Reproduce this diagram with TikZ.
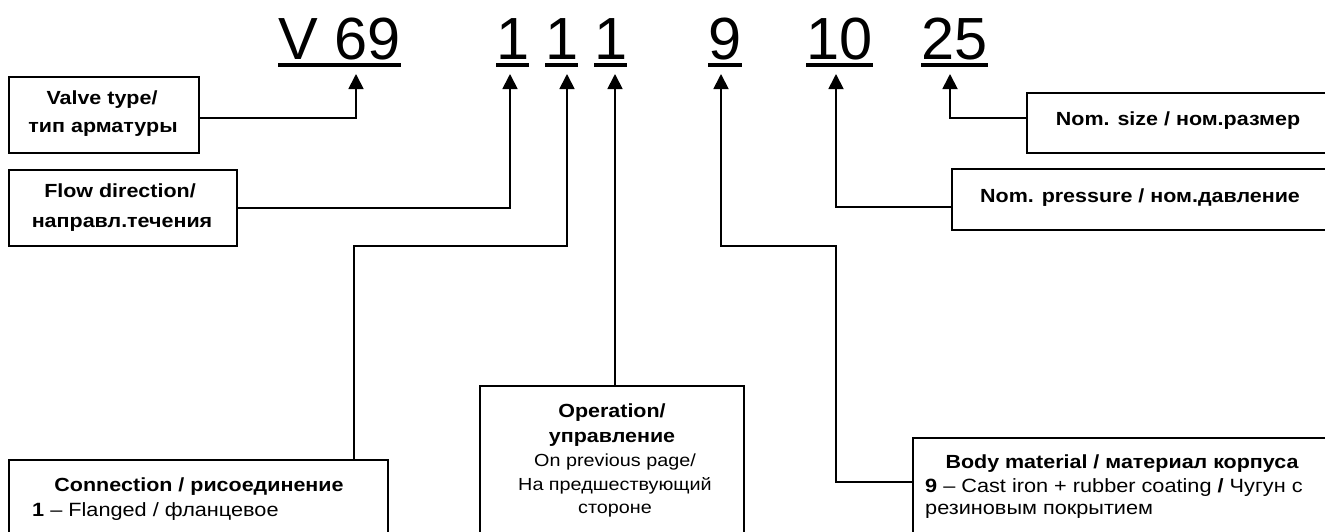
\documentclass[tikz,border=0pt]{standalone}
\usepackage{fontspec}
\setmainfont{Liberation Sans}
\newfontfamily\bxfont{Liberation Sans}[FakeStretch=1.13]
\usetikzlibrary{arrows.meta}
\begin{document}
\begin{tikzpicture}[x=1pt,y=-1pt,
  box/.style={draw, line width=1.8pt, inner sep=0pt},
  big/.style={font=\fontsize{59.5}{60}\selectfont, inner sep=0pt, anchor=base west},
  ul/.style={line width=4pt},
  arr/.style={line width=1.8pt, -{Triangle[length=15pt,width=15pt]}},
  bt/.style={font=\bxfont\bfseries\fontsize{19}{24}\selectfont, inner sep=0pt, anchor=base},
  rt/.style={font=\bxfont\fontsize{17.5}{24}\selectfont, inner sep=0pt, anchor=base},
  rtl/.style={font=\bxfont\fontsize{19.2}{24}\selectfont, inner sep=0pt, anchor=base west},
]
\useasboundingbox (0,0) rectangle (1325,531);

% code digits
\node[big] (nV) at (278,59) {V 69};
\node[big] (nA) at (496,59) {1};
\node[big] (nB) at (545,59) {1};
\node[big] (nC) at (594,59) {1};
\node[big] (nN) at (708,59) {9};
\node[big] (nP) at (806,59) {10};
\node[big] (nS) at (921,59) {25};
\foreach \n in {nV,nA,nB,nC,nN,nP,nS}
  \draw[ul] ([yshift=-6pt]\n.base west) -- ([yshift=-6pt]\n.base east);

% arrow tips
\coordinate (tV) at (356,74);
\coordinate (tA) at (510,74);
\coordinate (tB) at (567,74);
\coordinate (tC) at (615,74);
\coordinate (tN) at (721,74);
\coordinate (tP) at (836,74);
\coordinate (tS) at (950,74);
\coordinate (kB) at (354,246);
\coordinate (kN) at (836,246);

% boxes
\node[box, minimum width=190pt, minimum height=76pt] (valve) at (104,115) {};
\node[box, minimum width=228pt, minimum height=76pt] (flow) at (123,208) {};
\node[box, minimum width=379pt, minimum height=140pt] (conn) at (198.5,530) {};
\node[box, minimum width=264pt, minimum height=214pt] (op) at (612,493) {};
\node[box, minimum width=427pt, minimum height=162pt] (body) at (1126.5,519) {};
\node[box, minimum width=376pt, minimum height=61pt] (pres) at (1140,199.5) {};
\node[box, minimum width=303pt, minimum height=60pt] (size) at (1178.5,123) {};

% texts
\node[bt] (valveA) at (102,104) {Valve type/};
\node[bt] (valveB) at (103,132.5) {тип арматуры};
\node[bt] (flowA) at (120,197) {Flow direction/};
\node[bt] (flowB) at (122,227) {направл.течения};
\node[bt] (connA) at (199,491) {Connection / рисоединение};
\node[rtl] (connB) at (32,516) {\bfseries 1\mdseries{} – Flanged / фланцевое};
\node[bt] (opA) at (612,417) {Operation/};
\node[bt] (opB) at (612,442) {управление};
\node[rt] (opC) at (615,466) {On previous page/};
\node[rt] (opD) at (615,490) {На предшествующий};
\node[rt] (opE) at (615,513) {стороне};
\node[bt] (bodyA) at (1122,468) {Body material / материал корпуса};
\node[rtl] (bodyB) at (925,492) {\bfseries 9\mdseries{} – Cast iron + rubber coating \textbf{/} Чугун с};
\node[rtl] (bodyC) at (925,514) {резиновым покрытием};
\node[bt] (presA) at (1140,202) {Nom. pressure / ном.давление};
\node[bt] (sizeA) at (1178,125) {Nom. size / ном.размер};

% connectors
\draw[arr] ([yshift=-3pt]valve.east) -| (tV);
\draw[arr] (flow.east) -| (tA);
\draw[arr] (conn.north -| kB) |- (tB |- kB) -- (tB);
\draw[arr] (op.north -| tC) -- (tC);
\draw[arr] ([yshift=-45pt]body.north west) -| (kN) -| (tN);
\draw[arr] ([yshift=-7.5pt]pres.west) -| (tP);
\draw[arr] ([yshift=5pt]size.west) -| (tS);
\end{tikzpicture}
\end{document}
